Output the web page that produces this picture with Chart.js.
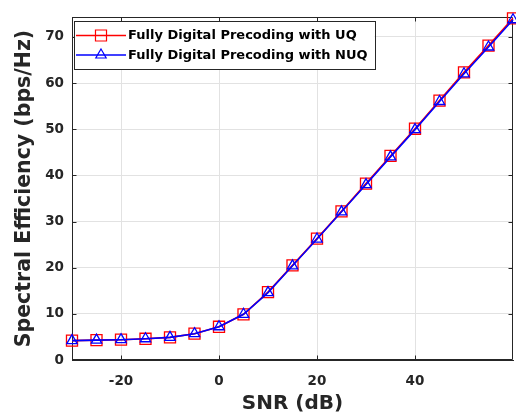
<!DOCTYPE html>
<html lang="en">
<head>
<meta charset="UTF-8">
<title>Spectral Efficiency vs SNR</title>
<script src="https://cdn.jsdelivr.net/npm/chart.js"></script>
<style>
  html, body { margin: 0; padding: 0; background: #fff; }
  #wrap { width: 516px; height: 418px; }
</style>
</head>
<body>
<div id="wrap"><canvas id="seChart" width="516" height="418"></canvas></div>
<script>
// SNR sweep and spectral efficiency for the two quantizers
const snrDb = [-30, -25, -20, -15, -10, -5, 0, 5, 10, 15, 20, 25, 30, 35, 40, 45, 50, 55, 60];
const seUQ  = [4.2, 4.3, 4.4, 4.6, 4.9, 5.7, 7.2, 9.9, 14.7, 20.5, 26.3, 32.2, 38.2, 44.2, 50.1, 56.2, 62.3, 68.1, 74.0];
const seNUQ = [4.2, 4.3, 4.4, 4.6, 4.9, 5.7, 7.2, 9.9, 14.6, 20.4, 26.2, 32.1, 38.0, 44.0, 49.9, 56.0, 62.0, 67.8, 73.7];
const seriesLabels = ['Fully Digital Precoding with UQ', 'Fully Digital Precoding with NUQ'];

const xTicks = [-20, 0, 20, 40];
const yTicks = [0, 10, 20, 30, 40, 50, 60, 70];

const textColor = '#262626';
const fontFamily = '"DejaVu Sans", sans-serif';

// box around the plot + inward tick marks on all four sides
const framePlugin = {
    id: 'frame',
    beforeDatasetsDraw(chart) {
        const { ctx, chartArea: a, scales } = chart;
        const L = Math.round(a.left) + 0.5, R = Math.round(a.right) - 0.5;
        const T = Math.round(a.top) + 0.5, B = Math.round(a.bottom) - 0.5;
        const tl = 4;
        ctx.save();
        ctx.strokeStyle = textColor;
        ctx.lineWidth = 1;
        ctx.beginPath();
        ctx.rect(L, T, R - L, B - T);
        xTicks.forEach(v => {
            const px = Math.round(scales.x.getPixelForValue(v)) + 0.5;
            ctx.moveTo(px, B); ctx.lineTo(px, B - tl);
            ctx.moveTo(px, T); ctx.lineTo(px, T + tl);
        });
        yTicks.forEach(v => {
            const py = Math.round(scales.y.getPixelForValue(v)) + 0.5;
            ctx.moveTo(L, py); ctx.lineTo(L + tl, py);
            ctx.moveTo(R, py); ctx.lineTo(R - tl, py);
        });
        ctx.stroke();
        ctx.restore();
    }
};

// legend box in the upper-left corner of the plot
const boxLegend = {
    id: 'boxLegend',
    afterDatasetsDraw(chart) {
        const { ctx, chartArea: a } = chart;
        const x0 = a.left + 2, y0 = a.top + 4;
        const lineLen = 50, textGap = 2, rowH = 19.5, padTop = 14.5;
        ctx.save();
        ctx.font = 'bold 13px ' + fontFamily;
        const textW = Math.max(...chart.data.datasets.map(d => ctx.measureText(d.label).width));
        const w = 1 + lineLen + textGap + textW + 8;
        const h = 48;
        ctx.fillStyle = '#fff';
        ctx.fillRect(x0, y0, w, h);
        ctx.strokeStyle = textColor;
        ctx.lineWidth = 1;
        ctx.strokeRect(Math.round(x0) + 0.5, Math.round(y0) + 0.5, Math.round(w), Math.round(h));
        chart.data.datasets.forEach((d, i) => {
            const cy = y0 + padTop + i * rowH;
            const lx = x0 + 2;
            ctx.strokeStyle = d.borderColor;
            ctx.lineWidth = 1.3;
            ctx.beginPath();
            ctx.moveTo(lx, cy); ctx.lineTo(lx + lineLen, cy);
            ctx.stroke();
            ctx.fillStyle = 'rgba(0,0,0,0)';
            ctx.lineWidth = 1.2;
            Chart.helpers.drawPoint(ctx, {
                pointStyle: d.pointStyle, radius: d.pointRadius, rotation: 0, borderWidth: 1.2
            }, lx + lineLen / 2, cy);
            ctx.fillStyle = '#000';
            ctx.textBaseline = 'middle';
            ctx.textAlign = 'left';
            ctx.fillText(d.label, lx + lineLen + textGap, cy + 0.5);
        });
        ctx.restore();
    }
};

const ctx = document.getElementById('seChart').getContext('2d');
new Chart(ctx, {
    type: 'line',
    data: {
        datasets: [
            {
                label: seriesLabels[0],
                data: snrDb.map((x, i) => ({ x, y: seUQ[i] })),
                borderColor: '#ff0000',
                borderWidth: 1.6,
                pointStyle: 'rect',
                pointRadius: 7.8,
                pointBorderWidth: 1.3,
                pointBackgroundColor: 'rgba(0,0,0,0)',
                pointBorderColor: '#ff0000',
                tension: 0,
                clip: false,
                order: 1
            },
            {
                label: seriesLabels[1],
                data: snrDb.map((x, i) => ({ x, y: seNUQ[i] })),
                borderColor: '#0000ff',
                borderWidth: 1.6,
                pointStyle: 'triangle',
                pointRadius: 6,
                pointBorderWidth: 1.3,
                pointBackgroundColor: 'rgba(0,0,0,0)',
                pointBorderColor: '#0000ff',
                tension: 0,
                clip: false,
                order: 0
            }
        ]
    },
    options: {
        responsive: false,
        animation: false,
        layout: { autoPadding: false, padding: { top: 17, right: 3, left: 0, bottom: 0 } },
        plugins: {
            legend: { display: false },
            tooltip: { enabled: false }
        },
        scales: {
            x: {
                type: 'linear',
                min: -30,
                max: 60,
                afterBuildTicks: s => { s.ticks = xTicks.map(v => ({ value: v })); },
                afterFit: s => { s.height = 58; },
                grid: { color: '#e2e2e2', drawTicks: false },
                border: { display: true, color: textColor },
                ticks: {
                    padding: 13,
                    color: textColor,
                    maxRotation: 0,
                    font: { family: fontFamily, size: 13.5, weight: 'bold' }
                },
                title: {
                    display: true,
                    text: 'SNR (dB)',
                    color: textColor,
                    padding: { top: 0, bottom: 2 },
                    font: { family: fontFamily, size: 20, weight: 'bold', lineHeight: 1.2 }
                }
            },
            y: {
                type: 'linear',
                min: 0,
                max: 74.3,
                afterBuildTicks: s => { s.ticks = yTicks.map(v => ({ value: v })); },
                afterFit: s => { s.width = 72; },
                grid: { color: '#e2e2e2', drawTicks: false },
                border: { display: true, color: textColor },
                ticks: {
                    padding: 8,
                    color: textColor,
                    font: { family: fontFamily, size: 13.5, weight: 'bold' }
                },
                title: {
                    display: true,
                    text: 'Spectral Efficiency (bps/Hz)',
                    color: textColor,
                    padding: { top: 12, bottom: 0 },
                    font: { family: fontFamily, size: 20.5, weight: 'bold', lineHeight: 1.2 }
                }
            }
        }
    },
    plugins: [framePlugin, boxLegend]
});
</script>
</body>
</html>
